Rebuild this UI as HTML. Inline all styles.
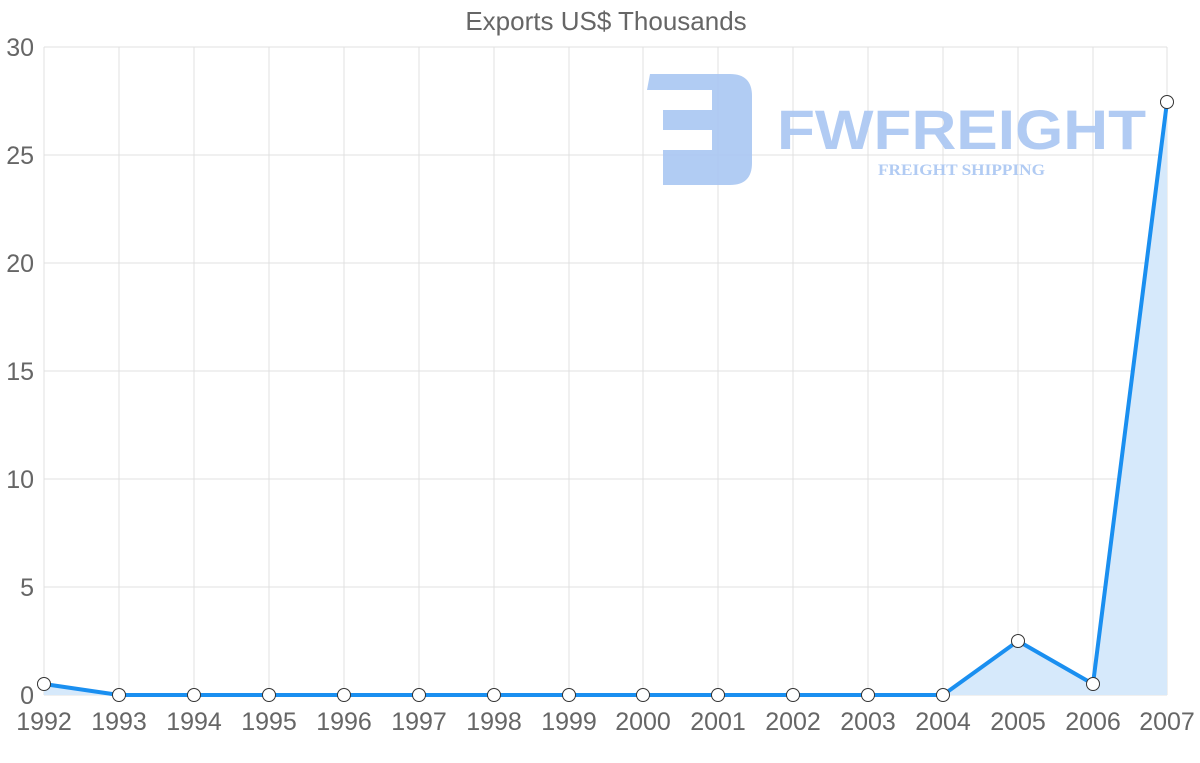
<!DOCTYPE html>
<html><head><meta charset="utf-8"><style>
html,body{margin:0;padding:0;background:#fff;}
svg{display:block;font-family:"Liberation Sans",sans-serif;}
</style></head><body>
<svg width="1200" height="763" viewBox="0 0 1200 763">
<text x="606" y="30" text-anchor="middle" font-size="26" fill="#666">Exports US$ Thousands</text>
<g stroke="#e0e0e0" stroke-width="1">
<line x1="44" y1="47" x2="1167" y2="47"/><line x1="44" y1="155" x2="1167" y2="155"/>
<line x1="44" y1="263" x2="1167" y2="263"/><line x1="44" y1="371" x2="1167" y2="371"/>
<line x1="44" y1="479" x2="1167" y2="479"/><line x1="44" y1="587" x2="1167" y2="587"/>
<line x1="44" y1="695" x2="1167" y2="695"/>
<line x1="44" y1="47" x2="44" y2="695"/><line x1="119" y1="47" x2="119" y2="695"/><line x1="194" y1="47" x2="194" y2="695"/><line x1="269" y1="47" x2="269" y2="695"/><line x1="344" y1="47" x2="344" y2="695"/><line x1="419" y1="47" x2="419" y2="695"/><line x1="494" y1="47" x2="494" y2="695"/><line x1="569" y1="47" x2="569" y2="695"/><line x1="643" y1="47" x2="643" y2="695"/><line x1="718" y1="47" x2="718" y2="695"/><line x1="793" y1="47" x2="793" y2="695"/><line x1="868" y1="47" x2="868" y2="695"/><line x1="943" y1="47" x2="943" y2="695"/><line x1="1018" y1="47" x2="1018" y2="695"/><line x1="1093" y1="47" x2="1093" y2="695"/><line x1="1167" y1="47" x2="1167" y2="695"/>
</g>
<g fill="#a9c6f2" opacity="0.9">
<path d="M650 74 H730 Q752 74 752 96 V163 Q752 185 730 185 H663 V150 H712 V130 H663 V110 H712 V90 H647 Z"/>
<text x="777" y="149" font-size="56" font-weight="bold" textLength="369" lengthAdjust="spacingAndGlyphs">FWFREIGHT</text>
<text x="878" y="175" font-size="16" font-weight="bold" font-family="Liberation Serif,serif" textLength="167" lengthAdjust="spacingAndGlyphs">FREIGHT SHIPPING</text>
</g>
<g font-size="25" fill="#666" text-anchor="end">
<text x="34" y="56">30</text><text x="34" y="164">25</text><text x="34" y="272">20</text><text x="34" y="380">15</text><text x="34" y="488">10</text><text x="34" y="596">5</text><text x="34" y="704">0</text>
</g>
<g font-size="25" fill="#666" text-anchor="middle">
<text x="44" y="730">1992</text><text x="119" y="730">1993</text><text x="194" y="730">1994</text><text x="269" y="730">1995</text><text x="344" y="730">1996</text><text x="419" y="730">1997</text><text x="494" y="730">1998</text><text x="569" y="730">1999</text><text x="643" y="730">2000</text><text x="718" y="730">2001</text><text x="793" y="730">2002</text><text x="868" y="730">2003</text><text x="943" y="730">2004</text><text x="1018" y="730">2005</text><text x="1093" y="730">2006</text><text x="1167" y="730">2007</text>
</g>
<path d="M44 684 L119 695 L943 695 L1018 641 L1093 684 L1167 102 L1167 695 L44 695 Z" fill="#d6e9fb"/>
<polyline points="44,684 119,695 943,695 1018,641 1093,684 1167,102" fill="none" stroke="#1a8ff0" stroke-width="4" stroke-linejoin="round"/>
<g fill="#fff" stroke="#333" stroke-width="1">
<circle cx="44" cy="684" r="6.5"/><circle cx="119" cy="695" r="6.5"/><circle cx="194" cy="695" r="6.5"/><circle cx="269" cy="695" r="6.5"/><circle cx="344" cy="695" r="6.5"/><circle cx="419" cy="695" r="6.5"/><circle cx="494" cy="695" r="6.5"/><circle cx="569" cy="695" r="6.5"/><circle cx="643" cy="695" r="6.5"/><circle cx="718" cy="695" r="6.5"/><circle cx="793" cy="695" r="6.5"/><circle cx="868" cy="695" r="6.5"/><circle cx="943" cy="695" r="6.5"/><circle cx="1018" cy="641" r="6.5"/><circle cx="1093" cy="684" r="6.5"/><circle cx="1167" cy="102" r="6.5"/>
</g>
</svg>
</body></html>
